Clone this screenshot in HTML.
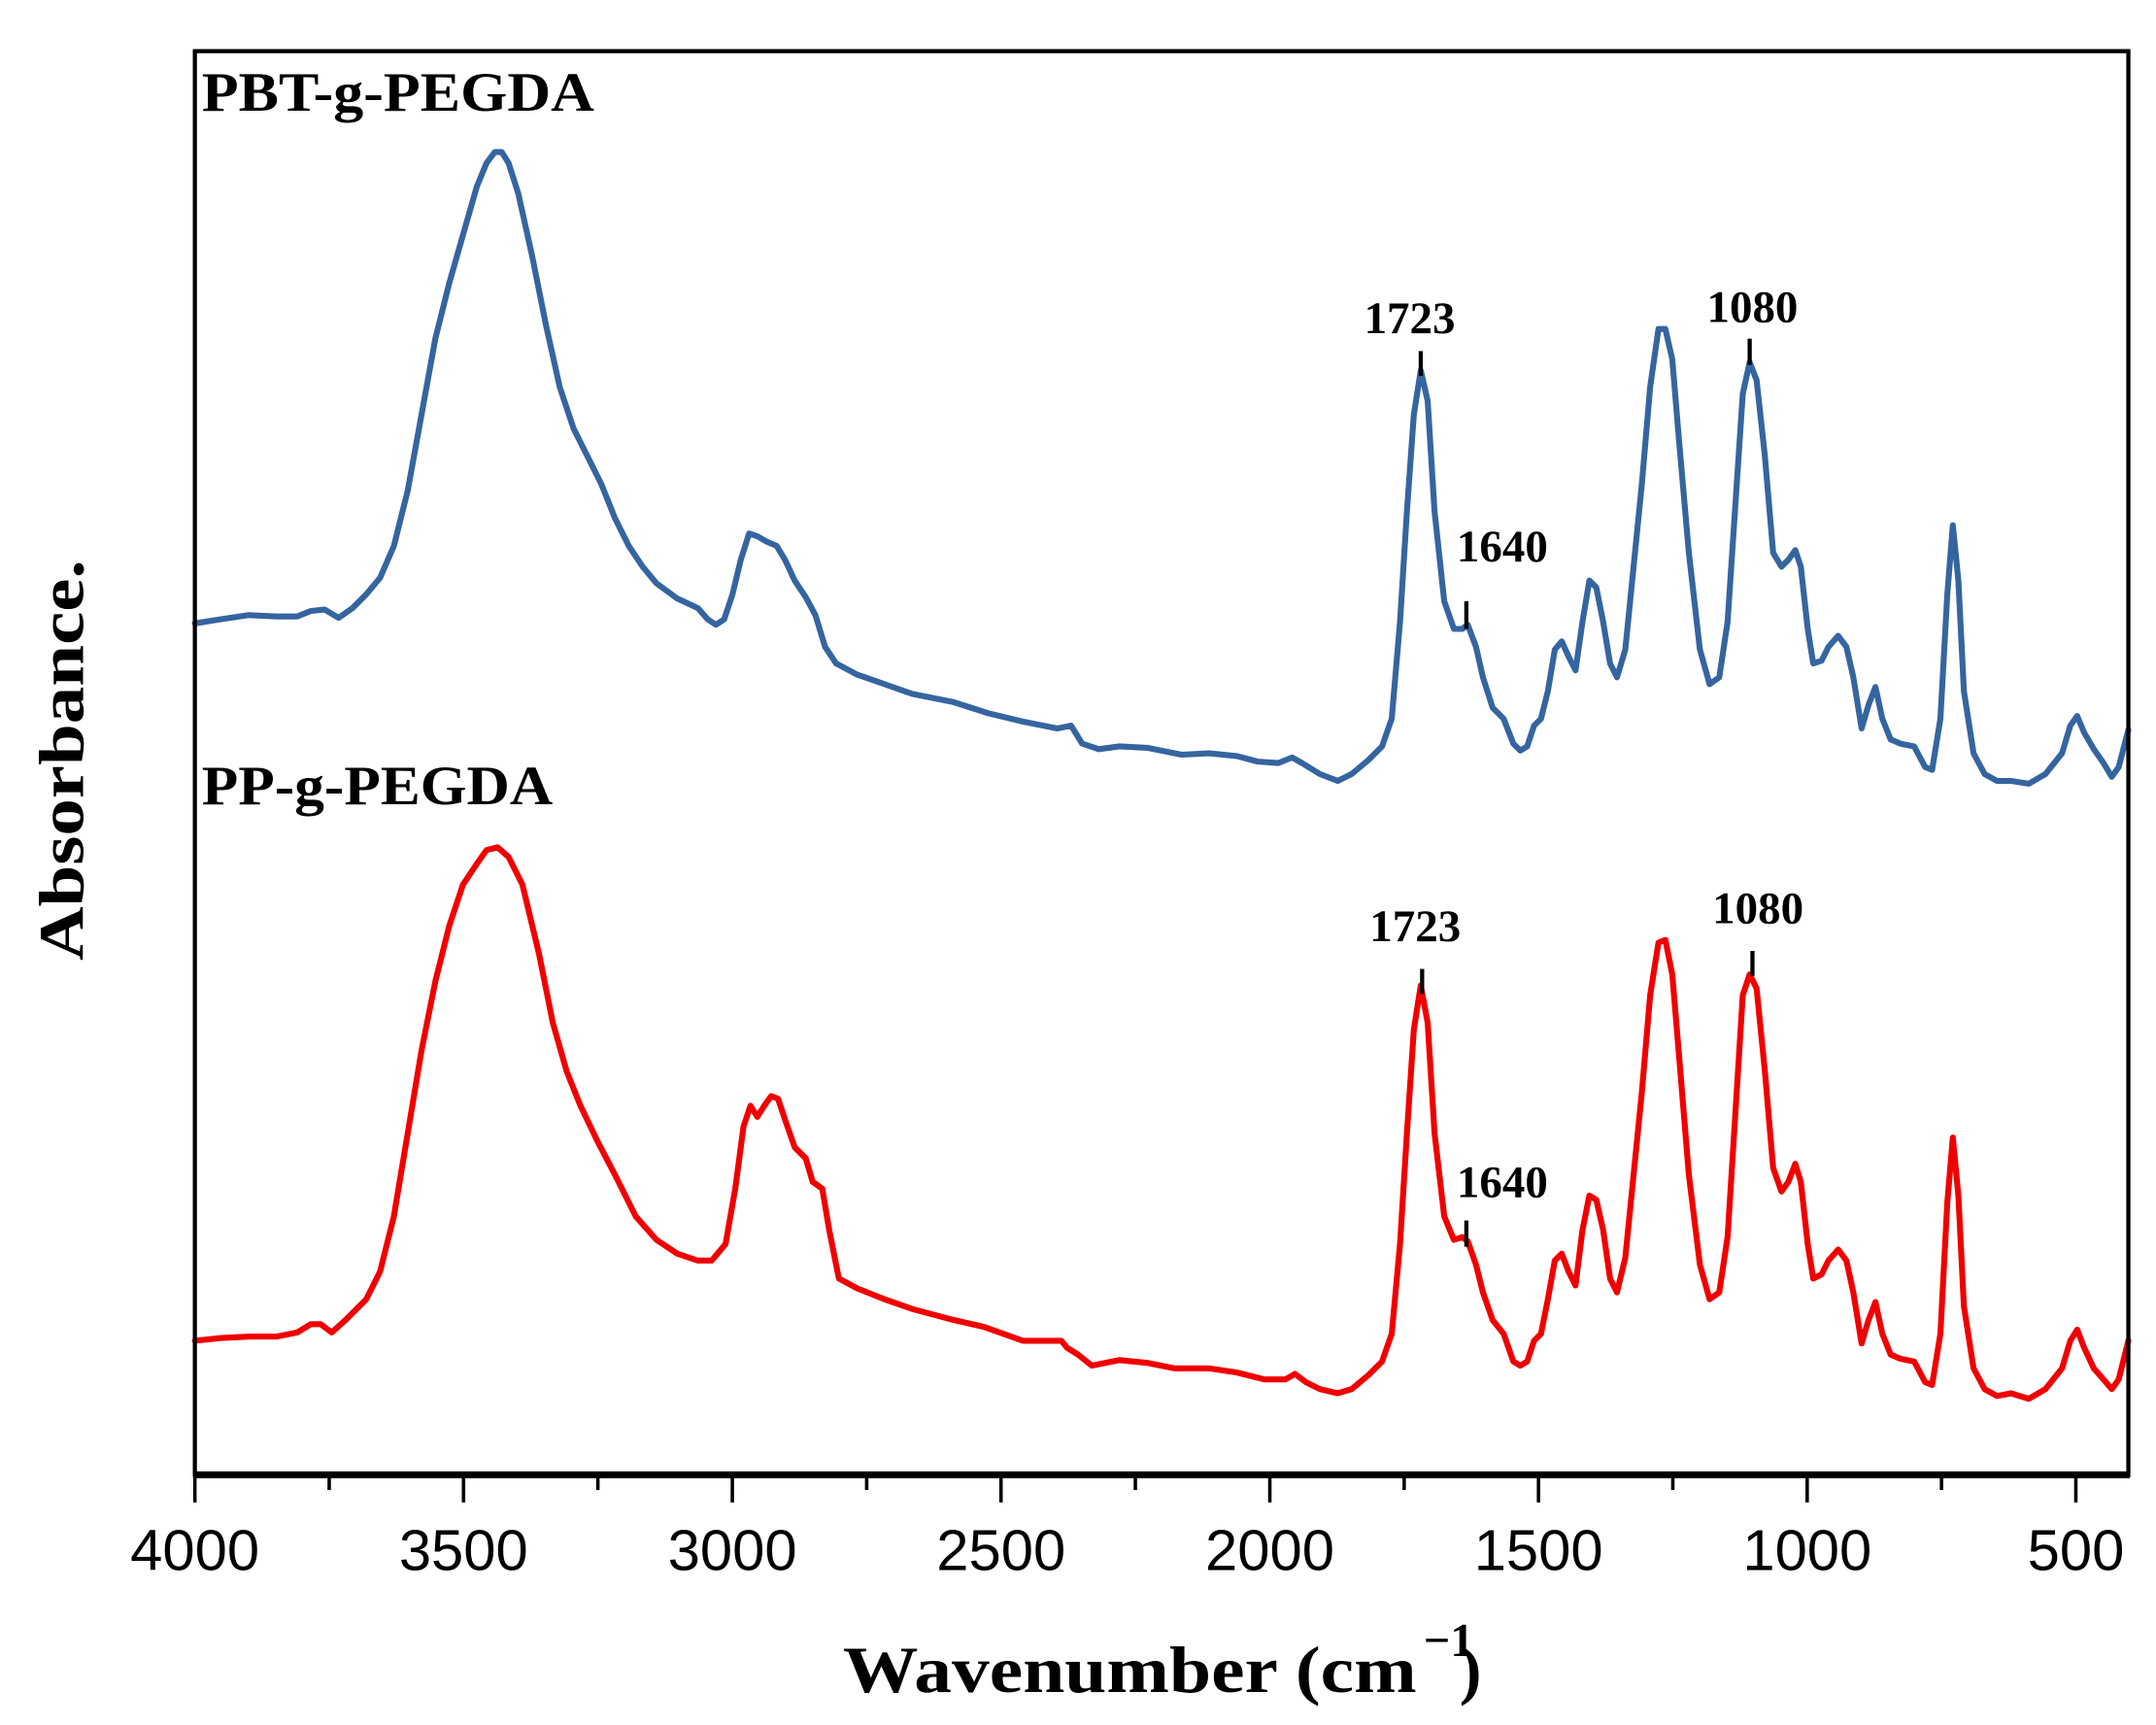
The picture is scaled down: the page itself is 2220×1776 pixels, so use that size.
<!DOCTYPE html>
<html><head><meta charset="utf-8"><style>html,body{margin:0;padding:0;background:#fff}svg{display:block}</style></head>
<body>
<svg width="2220" height="1776" viewBox="0 0 1560 1248" xmlns="http://www.w3.org/2000/svg">
<rect width="1560" height="1248" fill="#fff"/>
<g fill="none" stroke-linejoin="round" stroke-linecap="round" stroke-width="4.3">
<polyline stroke="#3565A0" points="141,451 160,448 180,445 200,446 215,446 225,442 235,441 245,447 255,440 265,430 275,418 285,395 295,355 305,300 315,245 325,205 335,170 345,135 352,118 358,110 363,110 368,118 375,140 385,185 395,235 405,280 415,310 425,330 435,350 445,375 455,395 465,410 475,422 490,433 505,440 512,448 518,452 524,448 530,430 536,405 542,386 548,388 555,392 562,395 568,405 575,420 583,432 590,445 597,468 605,480 620,488 640,495 660,502 690,508 715,516 740,522 765,527 775,525 783,538 795,542 810,540 830,541 855,546 875,545 895,547 910,551 925,552 935,548 942,552 955,560 968,565 978,560 990,550 1000,540 1007,520 1013,450 1018,370 1023,300 1028,268 1033,290 1038,370 1045,435 1052,455 1058,455 1062,452 1068,468 1073,490 1080,512 1088,520 1095,538 1100,543 1105,540 1110,525 1115,520 1120,500 1125,470 1130,464 1135,475 1140,485 1145,450 1150,420 1155,425 1160,450 1165,480 1170,490 1176,470 1182,410 1188,350 1194,280 1200,238 1205,238 1210,260 1215,320 1222,400 1230,470 1237,495 1244,490 1250,450 1256,360 1261,285 1266,262 1271,275 1277,330 1283,400 1289,410 1294,405 1299,398 1303,410 1308,455 1312,480 1318,478 1323,468 1330,460 1336,468 1341,490 1347,527 1352,510 1357,497 1362,520 1368,535 1375,538 1385,540 1393,555 1398,557 1404,520 1409,430 1413,380 1417,420 1421,500 1428,545 1436,560 1445,565 1455,565 1468,567 1480,560 1492,545 1498,525 1503,518 1508,530 1515,542 1522,552 1528,562 1533,555 1540,528"/>
<polyline stroke="#F00000" points="141,970 160,968 180,967 200,967 215,964 225,958 232,958 240,964 250,955 265,940 275,920 285,880 295,820 305,760 315,710 325,670 335,640 345,625 352,615 360,613 368,620 378,640 390,690 400,740 410,775 420,800 432,825 445,850 460,880 475,897 490,907 505,912 515,912 525,900 532,860 538,815 543,800 548,808 553,800 558,793 563,795 568,810 575,830 583,838 588,855 595,860 600,890 607,925 620,932 640,940 660,947 690,955 712,960 740,970 768,970 772,975 780,980 790,988 810,984 830,986 850,990 875,990 895,993 915,998 930,998 937,994 945,1000 955,1005 968,1008 978,1005 990,995 1000,985 1007,965 1013,900 1018,820 1023,745 1028,713 1033,740 1038,820 1045,880 1052,897 1058,895 1062,898 1068,915 1073,935 1080,955 1088,965 1095,985 1100,988 1105,985 1110,970 1115,965 1120,940 1125,912 1130,907 1135,920 1140,930 1145,890 1150,865 1155,868 1160,890 1165,925 1170,935 1176,910 1182,850 1188,790 1194,720 1200,682 1205,680 1210,705 1215,765 1222,850 1230,915 1237,940 1244,935 1250,895 1256,800 1261,720 1266,705 1271,715 1277,775 1283,845 1289,862 1294,855 1299,842 1303,855 1308,900 1312,925 1318,922 1323,912 1330,904 1336,912 1341,935 1347,972 1352,955 1357,942 1362,965 1368,980 1375,983 1385,985 1393,1000 1398,1002 1404,965 1409,870 1413,823 1417,865 1421,945 1428,990 1436,1005 1445,1010 1455,1008 1468,1012 1480,1005 1492,990 1498,970 1503,962 1508,975 1515,990 1522,998 1528,1005 1533,998 1540,970"/>
</g>
<rect x="141" y="37" width="1399" height="1030" fill="none" stroke="#000" stroke-width="3"/>
<line x1="140" y1="1067" x2="1541" y2="1067" stroke="#000" stroke-width="5"/>
<g stroke="#000" stroke-width="2.5">
<line x1="141" y1="1067" x2="141" y2="1087"/><line x1="335.4" y1="1067" x2="335.4" y2="1087"/><line x1="529.9" y1="1067" x2="529.9" y2="1087"/><line x1="724.3" y1="1067" x2="724.3" y2="1087"/><line x1="918.8" y1="1067" x2="918.8" y2="1087"/><line x1="1113.2" y1="1067" x2="1113.2" y2="1087"/><line x1="1307.6" y1="1067" x2="1307.6" y2="1087"/><line x1="1502" y1="1067" x2="1502" y2="1087"/>
<line x1="238.2" y1="1067" x2="238.2" y2="1078"/><line x1="432.6" y1="1067" x2="432.6" y2="1078"/><line x1="627.1" y1="1067" x2="627.1" y2="1078"/><line x1="821.5" y1="1067" x2="821.5" y2="1078"/><line x1="1016" y1="1067" x2="1016" y2="1078"/><line x1="1210.4" y1="1067" x2="1210.4" y2="1078"/><line x1="1404.8" y1="1067" x2="1404.8" y2="1078"/>
</g>
<g font-family="Liberation Sans, sans-serif" font-size="42" text-anchor="middle" fill="#000">
<text x="141" y="1136">4000</text><text x="335.4" y="1136">3500</text><text x="529.9" y="1136">3000</text><text x="724.3" y="1136">2500</text><text x="918.8" y="1136">2000</text><text x="1113.2" y="1136">1500</text><text x="1307.6" y="1136">1000</text><text x="1502" y="1136">500</text>
</g>
<g font-family="Liberation Serif, serif" font-weight="bold" fill="#000">
<text x="610" y="1224" font-size="48" textLength="415" lengthAdjust="spacingAndGlyphs">Wavenumber (cm</text>
<text x="1030" y="1198" font-size="34">−1</text>
<text x="1056" y="1224" font-size="48">)</text>
<text transform="translate(60,550) rotate(-90)" text-anchor="middle" font-size="46" textLength="290" lengthAdjust="spacingAndGlyphs">Absorbance.</text>
<text x="146" y="80" font-size="40" textLength="284" lengthAdjust="spacingAndGlyphs">PBT-g-PEGDA</text>
<text x="146" y="582" font-size="40" textLength="254" lengthAdjust="spacingAndGlyphs">PP-g-PEGDA</text>
<g font-size="33" text-anchor="middle">
<text x="1020" y="241">1723</text><text x="1268" y="233">1080</text><text x="1087" y="406">1640</text>
<text x="1024" y="681">1723</text><text x="1272" y="668">1080</text><text x="1087" y="866">1640</text>
</g>
</g>
<g stroke="#000" stroke-width="3">
<line x1="1028" y1="254" x2="1028" y2="272"/><line x1="1266" y1="245" x2="1266" y2="264"/><line x1="1061" y1="435" x2="1061" y2="455"/>
<line x1="1029" y1="701" x2="1029" y2="719"/><line x1="1268" y1="688" x2="1268" y2="706"/><line x1="1061" y1="883" x2="1061" y2="902"/>
</g>
</svg>
</body></html>
